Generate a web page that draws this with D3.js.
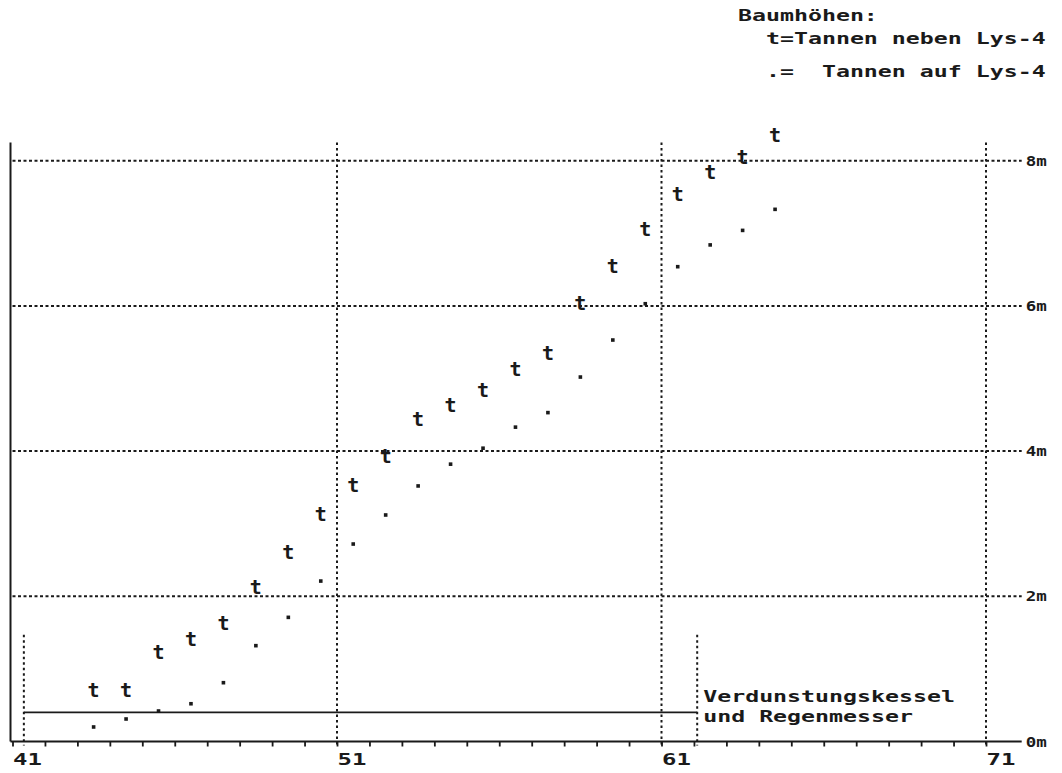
<!DOCTYPE html>
<html>
<head>
<meta charset="utf-8">
<script src="https://cdn.jsdelivr.net/npm/d3@7"></script>
<style>
  html, body { margin: 0; padding: 0; background: #fff; }
  svg { display: block; }
</style>
</head>
<body>
<div id="chart"></div>
<script>
// tree positions along the transect (x) and heights in metres
const positions = [43.5, 44.5, 45.5, 46.5, 47.5, 48.5, 49.5, 50.5, 51.5, 52.5, 53.5,
  54.5, 55.5, 56.5, 57.5, 58.5, 59.5, 60.5, 61.5, 62.5, 63.5, 64.5];
const heightsNeben = [0.70, 0.70, 1.22, 1.41, 1.63, 2.12, 2.61, 3.12, 3.52, 3.92, 4.43,
  4.63, 4.83, 5.13, 5.34, 6.03, 6.54, 7.05, 7.54, 7.84, 8.04, 8.35];
const heightsAuf = [0.20, 0.31, 0.42, 0.52, 0.81, 1.32, 1.71, 2.21, 2.72, 3.12, 3.52,
  3.82, 4.04, 4.33, 4.53, 5.02, 5.53, 6.03, 6.54, 6.84, 7.04, 7.33];

const xLabels = [41, 51, 61, 71];
const yLabels = [0, 2, 4, 6, 8];
const legendLines = ["Baumhöhen:", "  t=Tannen neben Lys-4", "  .=  Tannen auf Lys-4"];
const tankLabels = ["Verdunstungskessel", "und Regenmesser"];

// evaporation tank outline (x from / to, water level, post height)
const tankX = [41.35, 62.1];
const tankLevel = 0.4;
const tankPost = 1.47;

const width = 1062, height = 773;
const ink = "#1a1a1a";
const font = "'DejaVu Sans Mono', 'Liberation Mono', monospace";

const x = d3.scaleLinear().domain([41, 71]).range([12.5, 986]);
const y = d3.scaleLinear().domain([0, 8]).range([741.5, 160.7]);
const xEnd = 72.1, yTop = 8.25;

const svg = d3.select("#chart")
  .append("svg")
  .attr("width", width)
  .attr("height", height);

// stretched DOS-like text
function label(g, px, py, str, size, sx) {
  return g.append("text")
    .attr("transform", `translate(${px},${py}) scale(${sx},1)`)
    .attr("font-family", font)
    .attr("font-weight", "bold")
    .attr("font-size", size)
    .attr("fill", ink)
    .attr("xml:space", "preserve")
    .style("white-space", "pre")
    .text(str);
}

// horizontal dotted grid
svg.append("g")
  .selectAll("line")
  .data(yLabels.filter(d => d > 0))
  .enter()
  .append("line")
  .attr("x1", x(41))
  .attr("x2", x(xEnd))
  .attr("y1", d => y(d))
  .attr("y2", d => y(d))
  .attr("stroke", ink)
  .attr("stroke-width", 2)
  .attr("stroke-dasharray", "3,2.5");

// vertical dotted grid
svg.append("g")
  .selectAll("line")
  .data(xLabels.filter(d => d > 41))
  .enter()
  .append("line")
  .attr("x1", d => x(d))
  .attr("x2", d => x(d))
  .attr("y1", y(yTop))
  .attr("y2", y(0) + 5)
  .attr("stroke", ink)
  .attr("stroke-width", 2)
  .attr("stroke-dasharray", "2.5,3");

// bottom axis with a tick at each unit
const axis = svg.append("g")
  .attr("transform", `translate(0,${y(0)})`)
  .call(d3.axisBottom(x)
    .tickValues(d3.range(41, 72))
    .tickSize(5)
    .tickSizeOuter(0)
    .tickFormat(d => (xLabels.includes(d) ? d : "")));
axis.select(".domain").remove();
axis.selectAll(".tick line").attr("stroke", ink).attr("stroke-width", 1.8);
axis.selectAll(".tick text")
  .attr("font-family", font)
  .attr("font-weight", "bold")
  .attr("font-size", 16)
  .attr("fill", ink)
  .attr("text-anchor", "start")
  .attr("y", 12)
  .attr("transform", "scale(1.5,1)");

svg.append("line")
  .attr("x1", x(41) - 2)
  .attr("x2", x(xEnd))
  .attr("y1", y(0))
  .attr("y2", y(0))
  .attr("stroke", ink)
  .attr("stroke-width", 1.8);

// left axis line
svg.append("line")
  .attr("x1", x(41) - 2)
  .attr("x2", x(41) - 2)
  .attr("y1", y(yTop))
  .attr("y2", y(0))
  .attr("stroke", ink)
  .attr("stroke-width", 2);

// right metre labels
yLabels.forEach(d => {
  label(svg, x(xEnd) + 4, y(d) + 5, d + "m", 14, 1.25);
});

// tank outline
const tank = svg.append("g");
tank.append("line")
  .attr("x1", x(tankX[0]))
  .attr("x2", x(tankX[1]))
  .attr("y1", y(tankLevel))
  .attr("y2", y(tankLevel))
  .attr("stroke", ink)
  .attr("stroke-width", 1.8);
tank.selectAll("line.post")
  .data(tankX)
  .enter()
  .append("line")
  .attr("class", "post")
  .attr("x1", d => x(d))
  .attr("x2", d => x(d))
  .attr("y1", y(tankPost))
  .attr("y2", y(0) + 4)
  .attr("stroke", ink)
  .attr("stroke-width", 2)
  .attr("stroke-dasharray", "2.5,3");
tankLabels.forEach((t, i) => {
  label(tank, x(tankX[1]) + 6, y(tankLevel) - 10 + i * 20, t, 15, 1.55);
});

// trees next to the lysimeter: "t"
svg.append("g")
  .selectAll("text")
  .data(positions)
  .enter()
  .append("text")
  .attr("x", d => x(d))
  .attr("y", (d, i) => y(heightsNeben[i]) + 6.5)
  .attr("text-anchor", "middle")
  .attr("font-family", font)
  .attr("font-weight", "bold")
  .attr("font-size", 20)
  .attr("fill", ink)
  .text("t");

// trees on the lysimeter: "."
svg.append("g")
  .selectAll("rect")
  .data(positions)
  .enter()
  .append("rect")
  .attr("x", d => x(d) - 1.8)
  .attr("y", (d, i) => y(heightsAuf[i]) - 1.8)
  .attr("width", 3.6)
  .attr("height", 3.6)
  .attr("fill", ink);

// legend
legendLines.forEach((t, i) => {
  label(svg, 738, [21, 44, 77][i], t, 15, 1.55);
});
</script>
</body>
</html>
